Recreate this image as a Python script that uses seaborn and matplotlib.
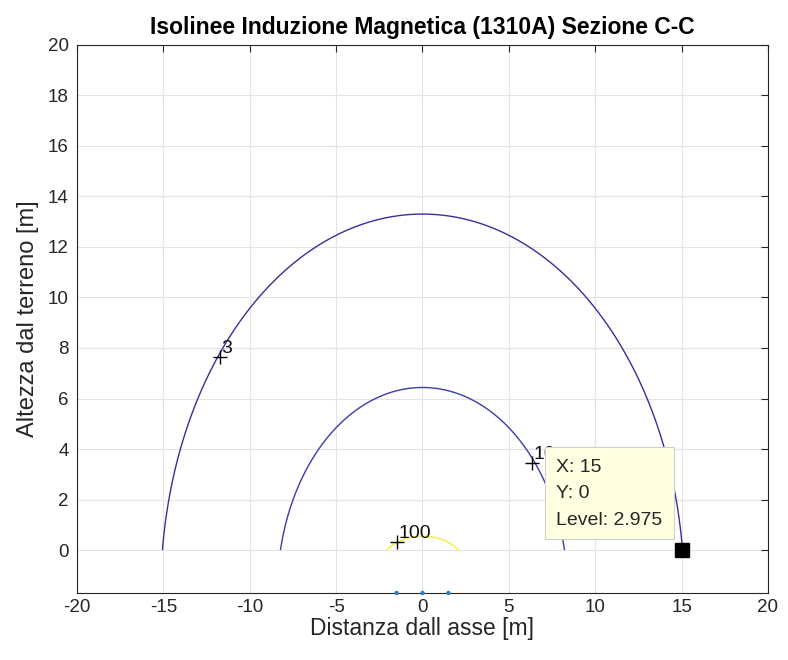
import numpy as np
import pandas as pd
import matplotlib
matplotlib.use("Agg")
import matplotlib.pyplot as plt
from matplotlib.patches import Rectangle
import seaborn as sns

# ---- data ----
current_A = 1310.0
cond_x = [-1.5, 0.0, 1.5]          # conductor positions [m]
cond_y = [-1.7, -1.7, -1.7]
cond_phase_deg = [0.0, -120.0, 120.0]
levels = [3, 10, 100]
level_colors = ["#38309a", "#3c3cac", "#f3ee3a"]
label_x = [-11.7, 6.35, -1.45]
label_y = [7.65, 3.45, 0.3]
label_txt = ["3", "10", "100"]
tip_x, tip_y, tip_level = 15, 0, 2.975
tip_lines = [f"X: {tip_x}", f"Y: {tip_y}", f"Level: {tip_level}"]
xticks = list(range(-20, 21, 5))
yticks = list(range(0, 21, 2))

sns.set_style("whitegrid")
plt.rcParams['font.family'] = ['Liberation Sans', 'DejaVu Sans']
plt.rcParams['axes.unicode_minus'] = False

# magnetic field grid (rms, microtesla) above ground
gx = np.arange(-20, 20.001, 0.05)
gy = np.arange(0, 20.001, 0.05)
X, Y = np.meshgrid(gx, gy)
Bx = np.zeros_like(X, dtype=complex)
By = np.zeros_like(X, dtype=complex)
for xc, yc, ph in zip(cond_x, cond_y, cond_phase_deg):
    Ik = current_A * np.exp(1j * np.deg2rad(ph))
    dx = X - xc
    dy = Y - yc
    r2 = dx**2 + dy**2
    Bx += 0.2 * Ik * (-dy) / r2
    By += 0.2 * Ik * dx / r2
B = np.sqrt(np.abs(Bx)**2 + np.abs(By)**2)

fig = plt.figure(figsize=(7.88, 6.60), dpi=100)
ax = fig.add_axes([0.0977, 0.1015, 0.8769, 0.8305])

ax.contour(X, Y, B, levels=levels, colors=level_colors, linewidths=1.0)

cdf = pd.DataFrame({"x": cond_x, "y": cond_y})
sns.scatterplot(data=cdf, x="x", y="y", ax=ax, color="#2a7fc0", s=10,
                edgecolor="none", clip_on=False, zorder=5, legend=False)

for lx, ly, lt in zip(label_x, label_y, label_txt):
    ax.plot(lx, ly, marker="+", color="black", markersize=10, mew=1.0, zorder=6)
    ax.text(lx + 0.05, ly + 0.0, lt, fontsize=14, color="#111111",
            ha="left", va="bottom", zorder=6)

# data tip
ax.plot(tip_x, tip_y, marker="s", color="black", markersize=10, zorder=8)
ax.add_patch(Rectangle((7.07, 0.42), 7.5, 3.66, facecolor="#ffffe1",
                       edgecolor="#cfcfcf", linewidth=0.8, zorder=9))
for i, t in enumerate(tip_lines):
    ax.text(7.7, 3.25 - i * 1.03, t, fontsize=14, color="#262626",
            ha="left", va="center", zorder=10)

ax.set_xlim(-20, 20)
ax.set_ylim(-1.7, 20)
ax.set_xticks(xticks)
ax.set_yticks(yticks)
ax.grid(True, color="#e3e3e3", linewidth=0.8)
for sp in ax.spines.values():
    sp.set_color("#262626")
    sp.set_linewidth(0.8)
ax.tick_params(direction="in", length=5, width=0.8, colors="#262626",
               labelsize=13.5, top=True, right=True, labelcolor="#262626")
ax.tick_params(axis="x", pad=4)
ax.tick_params(axis="y", pad=6)
ax.set_xlabel("Distanza dall asse [m]", fontsize=16.5, color="#262626",
              labelpad=1)
ax.set_ylabel("Altezza dal terreno [m]", fontsize=17, color="#262626",
              labelpad=6)
ax.set_title("Isolinee Induzione Magnetica (1310A) Sezione C-C",
             fontsize=16.5, fontweight="bold", color="black", pad=8)

fig.savefig("out.png", dpi=100)
